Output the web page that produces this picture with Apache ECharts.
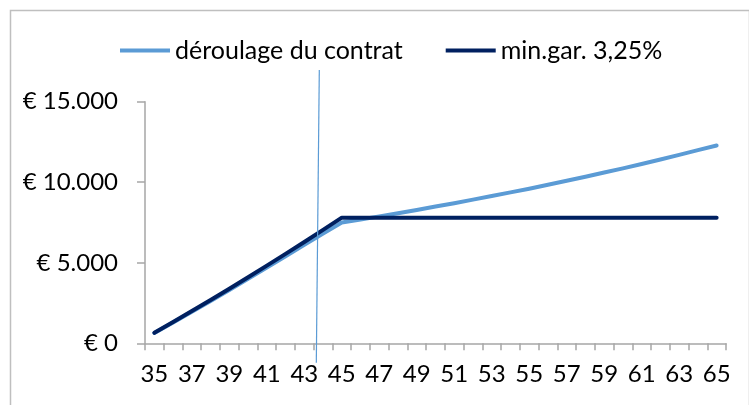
<!DOCTYPE html>
<html>
<head>
<meta charset="utf-8">
<script src="https://cdn.jsdelivr.net/npm/echarts@6/dist/echarts.min.js"></script>
<style>
html,body{margin:0;padding:0;background:#fff;}
#chart{width:749px;height:405px;}
</style>
</head>
<body>
<div id="chart"></div>
<script>
// Categories (age)
const ages = ['35','36','37','38','39','40','41','42','43','44','45','46','47','48','49','50','51','52','53','54','55','56','57','58','59','60','61','62','63','64','65'];
// Series values (EUR)
const deroulage = [640,1290,1960,2630,3310,4000,4700,5400,6110,6820,7500,7690,7880,8080,8280,8490,8700,8920,9140,9370,9600,9840,10090,10340,10600,10860,11130,11410,11700,11990,12280];
const minGar = [650,1320,2000,2690,3390,4100,4820,5550,6290,7040,7800,7800,7800,7800,7800,7800,7800,7800,7800,7800,7800,7800,7800,7800,7800,7800,7800,7800,7800,7800,7800];
// Series names
const seriesNames = ['déroulage du contrat', 'min.gar. 3,25%'];
// Y axis ticks
const yTicks = [0, 5000, 10000, 15000];
// Annotation line (category-index position, value) — a hand-drawn marker in the original
const markerLine = [[9.30, 16975], [9.14, -1205]];

const FONT = 'Lato';
const chart = echarts.init(document.getElementById('chart'), null, {renderer:'canvas'});

function euro(v){
  return '€ ' + String(v).replace(/\B(?=(\d{3})+(?!\d))/g, '.');
}

chart.setOption({
  animation: false,
  backgroundColor: '#fff',
  textStyle: {fontFamily: FONT},
  graphic: [{
    type: 'rect', left: 8, top: 8, silent: true,
    shape: {x: 0, y: 0, width: 739, height: 420},
    style: {fill: 'none', stroke: '#BFBFBF', lineWidth: 1.5}
  }],
  legend: {
    left: 115, top: 33,
    itemWidth: 50, itemHeight: 4, itemGap: 43,
    icon: 'rect',
    data: seriesNames,
    textStyle: {fontFamily: FONT, fontSize: 25, color: '#000'}
  },
  grid: {left: 145, right: 23, top: 101.7, bottom: 61.7, containLabel: false, outerBoundsMode: 'none'},
  xAxis: [{
    type: 'category', data: ages, boundaryGap: true,
    axisLine: {show: true, lineStyle: {color: '#A6A6A6', width: 1.5}},
    axisTick: {show: true, interval: 0, length: 7, lineStyle: {color: '#A6A6A6', width: 1.5}},
    axisLabel: {interval: 1, fontFamily: FONT, fontSize: 24, color: '#000', margin: 19},
    splitLine: {show: false}
  }, {
    type: 'value', min: 0, max: 31, show: false
  }],
  yAxis: [{
    type: 'value', min: yTicks[0], max: yTicks[yTicks.length-1], interval: 5000,
    axisLine: {show: true, lineStyle: {color: '#A6A6A6', width: 1.5}},
    axisTick: {show: true, length: 8, lineStyle: {color: '#A6A6A6', width: 1.5}},
    axisLabel: {fontFamily: FONT, fontSize: 24, color: '#000', margin: 27, formatter: euro},
    splitLine: {show: false}
  }, {
    type: 'value', min: yTicks[0], max: yTicks[yTicks.length-1], show: false
  }],
  series: [{
    name: seriesNames[0], type: 'line', data: deroulage,
    symbol: 'none', color: '#5B9BD5',
    lineStyle: {width: 4, color: '#5B9BD5', cap: 'round', join: 'round'}
  }, {
    name: seriesNames[1], type: 'line', data: minGar,
    symbol: 'none', color: '#002060',
    lineStyle: {width: 4, color: '#002060', cap: 'round', join: 'round'}
  }, {
    name: 'marker', type: 'line', xAxisIndex: 1, yAxisIndex: 1,
    data: markerLine, symbol: 'none', clip: false, silent: true,
    lineStyle: {width: 1.2, color: '#5B9BD5'}, z: 5
  }]
});
</script>
</body>
</html>
